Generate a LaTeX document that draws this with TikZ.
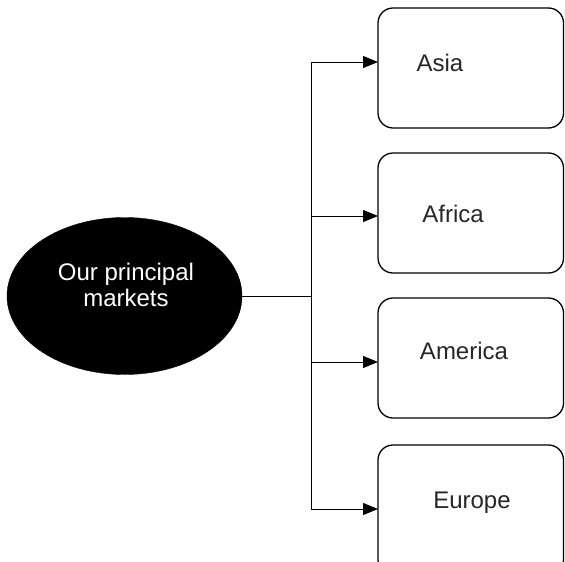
\documentclass[tikz,border=0pt]{standalone}
\usepackage{fontspec}
\setmainfont{Liberation Sans}
\usetikzlibrary{arrows.meta,shapes.geometric}
\begin{document}
\begin{tikzpicture}[x=1pt,y=-1pt,
  market/.style={draw=black,line width=1.3pt,rounded corners=15pt},
  hub/.style={ellipse,fill=black,draw=black,minimum width=235pt,minimum height=157pt,inner sep=0pt},
  label/.style={font=\fontsize{24}{26}\selectfont,text=black!85},
  link/.style={line width=1pt},
  feed/.style={line width=1pt,-{Triangle[length=15pt,width=12pt]}}]
\useasboundingbox (0,0) rectangle (565,562);
\clip (0,0) rectangle (565,562);

% central ellipse
\node[hub] (hub) at (124.5,296) {};
\node[font=\fontsize{24}{26}\selectfont,text=white,align=center] (hubtext) at (126,285)
  {Our principal\\markets};

% market boxes
\draw[market] (378,8) rectangle (563.5,128);
\draw[market] (378,153) rectangle (563.5,273);
\draw[market] (378,298) rectangle (563.5,418);
\draw[market] (378,445) rectangle (563.5,575);

\coordinate (asia) at (378,62);
\coordinate (africa) at (378,216);
\coordinate (america) at (378,362);
\coordinate (europe) at (378,509);

\node[label] (asiat) at (440,63) {Asia};
\node[label] (africat) at (453,214) {Africa};
\node[label] (americat) at (464,351) {America};
\node[label] (europet) at (472,503) {Europe};

% trunk and branches
\coordinate (top) at (311,62);
\coordinate (bottom) at (311,509);
\draw[link] (hub.east) -- (hub.east -| top);
\draw[link] (top) -- (bottom);
\draw[feed] (top) -- (asia);
\draw[feed] (africa -| top) -- (africa);
\draw[feed] (america -| top) -- (america);
\draw[feed] (bottom) -- (europe);
\end{tikzpicture}
\end{document}
